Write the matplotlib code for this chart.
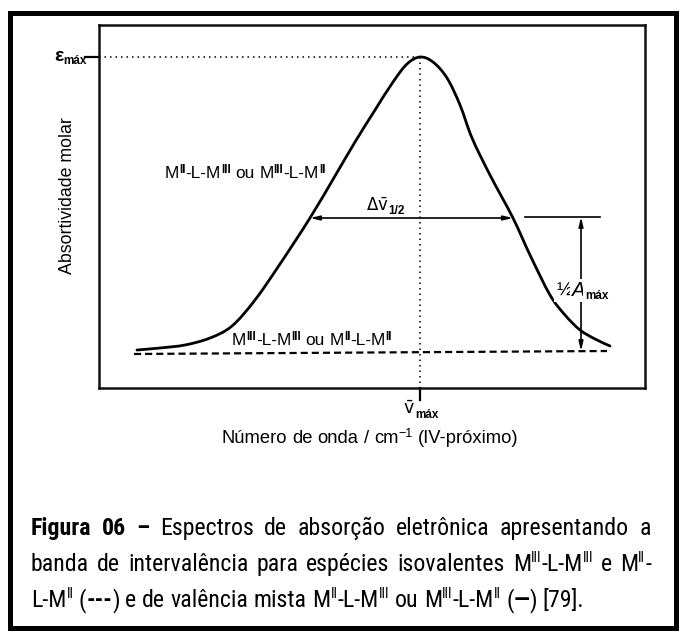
import matplotlib
matplotlib.use("Agg")
import numpy as np
import matplotlib.pyplot as plt
from matplotlib import font_manager as fm
from matplotlib.patches import Rectangle, PathPatch
from matplotlib.path import Path

# ---- data (arbitrary units: wavenumber 0-100 across the box, absorptivity 0-100) ----
wavenumber = [6.96, 11.17, 15.75, 20.33, 24.36, 28.57, 33.15, 38.64, 43.22, 46.89,
              50.55, 53.85, 56.41, 58.79, 61.17, 63.74, 66.12, 68.32,
              71.61, 75.82, 78.94, 82.60, 85.35, 88.10, 90.84, 93.59]
absorptivity = [10.47, 11.02, 11.85, 13.77, 17.08, 24.24, 34.16, 46.83, 58.40, 67.77,
                76.58, 84.30, 89.26, 91.18, 89.81, 85.40, 77.96, 68.87,
                58.68, 46.83, 36.64, 25.62, 20.11, 15.98, 13.50, 11.57]
baseline_x = [6.41, 93.04]
baseline_y = [9.37, 10.19]
peak_x, peak_y = 58.79, 91.18
half_y = 46.83
half_left, half_right = 38.64, 75.82
ref_line_x = [78.02, 91.76]
amp_x = 88.28

W, H = 681, 635
fig = plt.figure(figsize=(W / 100, H / 100), dpi=100)
renderer = fig.canvas.get_renderer()

avail = {f.name for f in fm.fontManager.ttflist}
SANS = "Liberation Sans" if "Liberation Sans" in avail else "DejaVu Sans"
NARROW = next((n for n in ["Liberation Sans Narrow", "Arial Narrow", "Roboto Condensed",
                           "Archivo Narrow", "Asap Condensed"] if n in avail), SANS)
plt.rcParams["mathtext.fontset"] = "dejavusans"


def fx(x):
    return x / W


def fy(y):
    return 1 - y / H


def text_width(s, props):
    t = fig.text(0, 0, s, **props)
    w = t.get_window_extent(renderer).width
    t.remove()
    return w


def space_width(props):
    return text_width("n n", props) - text_width("nn", props)


def seg_props(base, extra):
    p = dict(base)
    p.update({k: v for k, v in extra.items() if k != "rise"})
    return p


def word_width(word, base):
    return sum(text_width(s, seg_props(base, extra)) for s, extra in word)


def draw_word(word, x, base_y, base):
    for s, extra in word:
        p = seg_props(base, extra)
        rise = extra.get("rise", 0)
        fig.text(fx(x), fy(base_y - rise), s, ha="left", va="baseline", **p)
        x += text_width(s, p)


def draw_words(words, x, base_y, base, justify_to=None, align="left"):
    widths = [word_width(w, base) for w in words]
    sp = space_width(base)
    total = sum(widths) + sp * (len(words) - 1)
    if justify_to is not None and len(words) > 1:
        sp = (justify_to - x - sum(widths)) / (len(words) - 1)
    elif align == "center":
        x = x - total / 2
    elif align == "right":
        x = x - total
    for w, wd in zip(words, widths):
        draw_word(w, x, base_y, base)
        x += wd + sp


def smooth_path(xs, ys):
    """Cubic Bezier path through the given points (Catmull-Rom tangents)."""
    p = np.column_stack([xs, ys]).astype(float)
    verts = [p[0]]
    codes = [Path.MOVETO]
    n = len(p)
    for i in range(n - 1):
        p0 = p[i - 1] if i > 0 else p[i]
        p3 = p[i + 2] if i + 2 < n else p[i + 1]
        c1 = p[i] + (p[i + 1] - p0) / 6
        c2 = p[i + 1] - (p3 - p[i]) / 6
        verts += [c1, c2, p[i + 1]]
        codes += [Path.CURVE4] * 3
    return Path(verts, codes)


# ---- outer frame ----
fig.patches.append(Rectangle((fx(9.5), fy(627.5)), (675.5 - 9.5) / W, (627.5 - 12.5) / H,
                             transform=fig.transFigure, fill=False, lw=3.6, ec="black"))

# ---- plot box ----
ax = fig.add_axes([fx(99), fy(388), (645 - 99) / W, (388 - 25) / H])
ax.set_xlim(0, 100)
ax.set_ylim(0, 100)
ax.set_xticks([])
ax.set_yticks([])
for s in ax.spines.values():
    s.set_linewidth(1.8)
    s.set_color("#111111")

# mixed-valence band and isovalent baseline
ax.add_patch(PathPatch(smooth_path(wavenumber, absorptivity), fill=False, ec="black",
                       lw=2.0, capstyle="round"))
ax.plot(baseline_x, baseline_y, color="black", lw=1.6, linestyle=(0, (3.2, 1.8)))

# peak guides
ax.plot([0, peak_x], [peak_y, peak_y], color="black", lw=1.1, linestyle=(0, (1, 2.6)))
ax.plot([peak_x, peak_x], [peak_y, 0], color="black", lw=1.1, linestyle=(0, (1, 2.6)))
ax.plot([-2.5, 0], [peak_y, peak_y], color="black", lw=1.6, clip_on=False)
ax.plot([peak_x, peak_x], [0, -3.3], color="black", lw=1.6, clip_on=False)

# half-width and amplitude arrows
arrow = dict(arrowstyle="<|-|>,head_length=0.55,head_width=0.13", color="black",
             lw=1.2, shrinkA=0, shrinkB=0)
ax.annotate("", xy=(half_left, half_y), xytext=(half_right, half_y), arrowprops=arrow)
ax.plot(ref_line_x, [half_y + 0.3, half_y + 0.3], color="black", lw=1.2)
amp_base = baseline_y[0] + (baseline_y[1] - baseline_y[0]) * (amp_x - baseline_x[0]) \
    / (baseline_x[1] - baseline_x[0])
ax.annotate("", xy=(amp_x, half_y + 0.3), xytext=(amp_x, amp_base), arrowprops=arrow)

# ---- chart labels ----
base = dict(family=SANS, fontsize=12.4, color="black")
sup = dict(fontsize=8.5, weight="bold", rise=5)
sub = dict(fontsize=8.5, weight="bold", rise=-3.5)
white = dict(bbox=dict(fc="white", ec="none", pad=1.5))

draw_words([[("M", {}), ("II", sup), ("-L-M", {}), ("III", sup)], [("ou", {})],
            [("M", {}), ("III", sup), ("-L-M", {}), ("II", sup)]], 165, 178, base)
draw_words([[("M", {}), ("III", sup), ("-L-M", {}), ("III", sup)], [("ou", {})],
            [("M", {}), ("II", sup), ("-L-M", {}), ("II", sup)]], 232, 345, base)

draw_words([[(r"$\Delta\bar{\mathrm{v}}$", dict(fontsize=12)), ("1/2", sub)]], 366, 211, base)
draw_words([[("½", dict(fontsize=13.5, **white)),
             ("A", dict(fontsize=14.5, style="italic", **white)),
             ("máx", dict(sub, **white))]], 556, 296, base)
draw_words([[("ε", dict(fontsize=14, weight="bold")), ("máx", sub)]], 87, 61, base,
           align="right")
draw_words([[(r"$\bar{\mathrm{v}}$", dict(fontsize=12.5)), ("máx", sub)]], 403, 414, base)

fig.text(fx(68), fy(196), "Absortividade molar", rotation=90, ha="center", va="center",
         family=SANS, fontsize=12.8)
draw_words([[("Número", {})], [("de", {})], [("onda", {})], [("/", {})],
            [("cm", {}), ("−1", dict(fontsize=9, rise=6))], [("(IV-próximo)", {})]],
           370, 443, dict(base, fontsize=13.2), align="center")

# ---- caption ----
B = dict(weight="bold")


def cap_words(size):
    s = dict(fontsize=size * 0.6, rise=size * 0.55)
    line1 = [[("Figura", B)], [("06", B)], [("–", B)], [("Espectros", {})], [("de", {})],
             [("absorção", {})], [("eletrônica", {})], [("apresentando", {})], [("a", {})]]
    line2 = [[("banda", {})], [("de", {})], [("intervalência", {})], [("para", {})],
             [("espécies", {})], [("isovalentes", {})],
             [("M", {}), ("III", s), ("-L-M", {}), ("III", s)], [("e", {})],
             [("M", {}), ("II", s), ("-", {})]]
    line3 = [[("L-M", {}), ("II", s)], [("(", {}), ("---", B), (")", {})], [("e", {})],
             [("de", {})], [("valência", {})], [("mista", {})],
             [("M", {}), ("II", s), ("-L-M", {}), ("III", s)], [("ou", {})],
             [("M", {}), ("III", s), ("-L-M", {}), ("II", s)],
             [("(", {}), ("—", B), (")", {})], [("[79].", {})]]
    return line1, line2, line3


size = 15.0
l1, l2, l3 = cap_words(size)
probe = dict(family=NARROW, fontsize=size)
nat = sum(word_width(w, probe) for w in l3) + space_width(probe) * (len(l3) - 1)
size = size * (588 - 31) / nat
l1, l2, l3 = cap_words(size)
cap = dict(family=NARROW, fontsize=size, color="black")
draw_words(l1, 31, 535, cap, justify_to=651)
draw_words(l2, 31, 571, cap, justify_to=651)
draw_words(l3, 31, 607, cap)

fig.savefig("out.png", dpi=100, facecolor="white")
